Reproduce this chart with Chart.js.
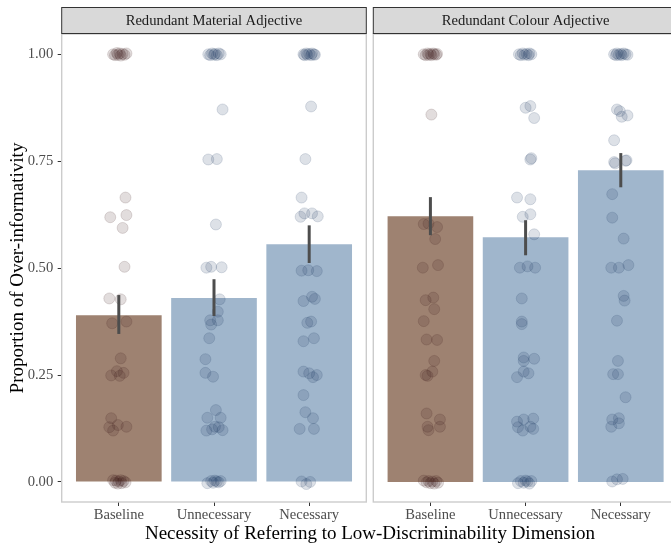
<!DOCTYPE html>
<html><head><meta charset="utf-8">
<script src="https://cdn.jsdelivr.net/npm/chart.js@4/dist/chart.umd.min.js"></script>
<style>
html,body{margin:0;padding:0;background:#fff;overflow:hidden;width:671px;height:546px;}
#wrap{position:relative;width:671px;height:546px;overflow:hidden;}
#c1{position:absolute;left:0;top:0;}
#c2{position:absolute;left:370px;top:0;}
#xt{position:absolute;left:0;width:740px;top:522px;line-height:22px;text-align:center;font-family:'Liberation Serif',serif;font-size:19px;color:#000;white-space:nowrap;}
</style></head>
<body>
<div id="wrap">
<canvas id="c1" width="370" height="546"></canvas>
<canvas id="c2" width="312" height="546"></canvas>
<div id="xt">Necessity of Referring to Low-Discriminability Dimension</div>
</div>
<script>
// ---------- data ----------
const conditions = ['Baseline', 'Unnecessary', 'Necessary'];
const panels = ['Redundant Material Adjective', 'Redundant Colour Adjective'];
const yTicks = [0, 0.25, 0.5, 0.75, 1];

const materialMeans = [0.390, 0.430, 0.556];
const materialLo    = [0.346, 0.388, 0.512];
const materialHi    = [0.437, 0.474, 0.600];

const colourMeans = [0.621, 0.572, 0.729];
const colourLo    = [0.577, 0.530, 0.689];
const colourHi    = [0.666, 0.612, 0.769];

// jittered participant points: [jitter, proportion]
const matBaseline = [
 [-0.06,1.0],[-0.04,0.998],[-0.02,1.003],[-0.01,0.999],[0.01,1.002],[0.02,0.997],[0.04,1.001],[0.06,0.999],[0.08,1.002],
 [0.07,0.665],[-0.09,0.619],[0.08,0.624],[0.04,0.594],[0.06,0.503],[-0.10,0.429],[0.02,0.427],[-0.07,0.371],[0.08,0.375],
 [0.02,0.289],[-0.08,0.249],[-0.02,0.259],[0.01,0.248],[0.05,0.255],[-0.08,0.149],[-0.10,0.128],[-0.01,0.133],[-0.06,0.120],[0.08,0.129],
 [-0.06,0.004],[-0.04,-0.002],[-0.03,0.003],[-0.01,-0.004],[0.0,0.001],[0.02,0.004],[0.03,-0.003],[0.05,0.002],[0.07,-0.001]
];
const matUnnecessary = [
 [-0.06,1.0],[-0.04,0.998],[-0.02,1.002],[0.0,0.999],[0.01,1.001],[0.03,0.998],[0.05,1.002],[0.07,1.0],
 [0.09,0.871],[-0.06,0.754],[0.03,0.755],[0.02,0.602],[-0.08,0.501],[-0.03,0.503],[0.08,0.502],[0.06,0.427],[0.04,0.398],
 [-0.04,0.378],[0.04,0.378],[-0.03,0.368],[-0.05,0.336],[-0.09,0.287],[-0.09,0.255],[-0.01,0.246],[0.02,0.168],[-0.07,0.150],
 [0.07,0.150],[-0.08,0.120],[-0.02,0.123],[0.05,0.128],[0.09,0.121],[0.01,0.129],
 [-0.07,-0.003],[-0.03,0.002],[-0.01,-0.002],[0.01,0.003],[0.03,0.001],[0.05,-0.001],[0.07,0.002]
];
const matNecessary = [
 [-0.06,1.0],[-0.05,0.998],[-0.03,1.002],[-0.02,0.999],[0.0,1.001],[0.02,0.998],[0.03,1.002],[0.05,1.0],[0.06,0.999],
 [0.02,0.878],[-0.04,0.755],[-0.08,0.665],[-0.09,0.620],[-0.05,0.628],[0.03,0.628],[0.09,0.621],[-0.08,0.494],[-0.01,0.495],
 [0.08,0.493],[-0.06,0.423],[0.03,0.433],[0.06,0.428],[-0.02,0.372],[0.02,0.375],[-0.06,0.329],[0.05,0.336],[-0.06,0.258],
 [0.0,0.254],[0.08,0.250],[0.04,0.245],[-0.06,0.203],[-0.04,0.163],[0.04,0.149],[-0.10,0.124],[0.05,0.124],
 [-0.08,0.001],[-0.03,-0.005],[0.01,0.0]
];
const colBaseline = [
 [-0.07,1.0],[-0.05,0.998],[-0.03,1.002],[-0.02,0.999],[0.0,1.001],[0.01,0.998],[0.03,1.002],[0.04,1.0],[0.06,0.999],[0.07,1.001],
 [0.01,0.859],[-0.07,0.603],[-0.02,0.604],[0.07,0.596],[0.05,0.568],[-0.08,0.501],[0.08,0.507],[-0.05,0.425],[0.03,0.431],
 [0.04,0.404],[-0.07,0.376],[-0.04,0.333],[0.07,0.332],[0.04,0.283],[0.02,0.258],[-0.05,0.250],[-0.03,0.248],[-0.04,0.160],
 [0.10,0.146],[-0.03,0.129],[-0.02,0.121],[0.10,0.129],
 [-0.07,0.003],[-0.04,-0.001],[-0.02,0.002],[0.0,-0.003],[0.02,0.001],[0.04,-0.004],[0.06,0.002],[0.08,-0.002]
];
const colUnnecessary = [
 [-0.07,1.0],[-0.05,0.998],[-0.03,1.002],[-0.01,0.999],[0.01,1.001],[0.03,0.998],[0.04,1.002],[0.06,1.0],
 [0.0,0.875],[0.05,0.879],[0.09,0.851],[0.05,0.754],[0.06,0.757],[-0.09,0.665],[0.05,0.661],[-0.03,0.620],[0.05,0.626],
 [0.09,0.579],[-0.06,0.501],[0.02,0.504],[0.10,0.501],[-0.04,0.429],[-0.04,0.375],[-0.04,0.369],[-0.02,0.291],[-0.02,0.283],
 [0.09,0.288],[-0.02,0.258],[0.03,0.254],[-0.09,0.245],[-0.09,0.141],[-0.02,0.146],[0.08,0.148],[-0.08,0.128],[-0.03,0.120],
 [0.05,0.129],[0.08,0.124],
 [-0.08,-0.003],[-0.05,0.002],[-0.02,-0.002],[0.0,0.003],[0.02,0.001],[0.04,-0.004],[0.06,0.002]
];
const colNecessary = [
 [-0.07,1.0],[-0.05,0.998],[-0.04,1.002],[-0.02,0.999],[0.0,1.001],[0.01,0.998],[0.03,1.002],[0.05,1.0],[0.07,0.999],
 [-0.04,0.871],[-0.01,0.867],[0.01,0.854],[0.07,0.857],[-0.07,0.799],[-0.07,0.748],[-0.06,0.745],[0.05,0.751],[0.06,0.752],
 [-0.09,0.673],[-0.09,0.618],[0.03,0.569],[-0.10,0.501],[-0.02,0.501],[0.08,0.507],[0.03,0.435],[0.04,0.424],[-0.04,0.377],
 [-0.03,0.283],[-0.08,0.252],[-0.03,0.252],[0.05,0.198],[-0.09,0.146],[-0.02,0.149],[-0.10,0.129],[-0.02,0.137],
 [-0.09,0.001],[-0.04,0.006],[0.02,0.007]
];

// ---------- styling ----------
const FONT = "'Liberation Serif', serif";
const barColors = ['#9e8271', '#a0b6cc', '#a0b6cc'];
const brownPt = 'rgba(58,30,28,0.15)';
const bluePt = 'rgba(28,56,96,0.15)';

function toPts(arr, i) { return arr.map(([j, v]) => ({x: i + j, y: v})); }

function panelPlugin(strip, lo, hi) {
  return {
    id: 'panelDeco',
    afterDatasetsDraw(chart) {
      const {ctx, scales: {x, y}} = chart;
      ctx.save();
      ctx.strokeStyle = '#4d4d4d';
      ctx.lineWidth = 3;
      lo.forEach((l, i) => {
        const px = x.getPixelForValue(i);
        ctx.beginPath();
        ctx.moveTo(px, y.getPixelForValue(l));
        ctx.lineTo(px, y.getPixelForValue(hi[i]));
        ctx.stroke();
      });
      ctx.restore();
    },
    afterDraw(chart) {
      const {ctx, chartArea: a} = chart;
      ctx.save();
      ctx.strokeStyle = '#cccccc';
      ctx.lineWidth = 1.4;
      ctx.strokeRect(a.left, a.top, a.right - a.left, a.bottom - a.top);
      const st = 7.5, sb = 33.5;
      ctx.fillStyle = '#d9d9d9';
      ctx.fillRect(a.left, st, a.right - a.left, sb - st);
      ctx.strokeStyle = '#333333';
      ctx.lineWidth = 1;
      ctx.strokeRect(a.left, st, a.right - a.left, sb - st);
      ctx.fillStyle = '#1a1a1a';
      ctx.font = '14.6px ' + FONT;
      ctx.textAlign = 'center';
      ctx.textBaseline = 'middle';
      ctx.fillText(strip, (a.left + a.right) / 2, (st + sb) / 2 + 0.5);
      ctx.restore();
    }
  };
}

function makeChart(canvas, strip, means, lo, hi, groups, showY, padding) {
  return new Chart(canvas, {
    type: 'bar',
    data: {
      datasets: [
        {type: 'scatter', order: 1, data: toPts(groups[0], 0),
         backgroundColor: brownPt, borderColor: brownPt, borderWidth: 1, pointRadius: 5.5},
        {type: 'scatter', order: 1, data: toPts(groups[1], 1).concat(toPts(groups[2], 2)),
         backgroundColor: bluePt, borderColor: bluePt, borderWidth: 1, pointRadius: 5.5},
        {type: 'bar', order: 2, data: means.map((m, i) => ({x: i, y: m})),
         backgroundColor: barColors, borderWidth: 0, categoryPercentage: 1, barPercentage: 0.9}
      ]
    },
    options: {
      responsive: false, devicePixelRatio: 1, animation: false, events: [],
      layout: {padding: padding, autoPadding: false},
      plugins: {legend: {display: false}, tooltip: {enabled: false}, title: {display: false}},
      scales: {
        x: {
          type: 'linear', min: -0.6, max: 2.6, offset: false,
          afterBuildTicks: (s) => { s.ticks = conditions.map((c, i) => ({value: i})); },
          afterFit: (s) => { s.height = 44; },
          grid: {offset: false, drawOnChartArea: false, drawTicks: true, tickLength: 4, color: '#333333'},
          border: {display: false},
          ticks: {autoSkip: false, maxRotation: 0, padding: 0, color: '#4d4d4d',
                  font: {family: FONT, size: 14.6}, callback: (v) => conditions[v]}
        },
        y: {
          type: 'linear', min: -0.047, max: 1.0475, display: showY,
          afterBuildTicks: (s) => { s.ticks = yTicks.map(v => ({value: v})); },
          afterFit: (s) => { if (showY) s.width = 61.7; },
          grid: {drawOnChartArea: false, drawTicks: true, tickLength: 4, color: '#333333'},
          border: {display: false},
          ticks: {padding: 4.5, color: '#4d4d4d', font: {family: FONT, size: 14.6},
                  callback: (v) => Number(v).toFixed(2)},
          title: {display: showY, text: 'Proportion of Over-informativity', color: '#000',
                  font: {family: FONT, size: 19, lineHeight: 1.2}, padding: {top: 7, bottom: 0}}
        }
      }
    },
    plugins: [panelPlugin(strip, lo, hi)]
  });
}

makeChart(document.getElementById('c1'), panels[0], materialMeans, materialLo, materialHi,
  [matBaseline, matUnnecessary, matNecessary], true, {top: 34, right: 3.7, bottom: 0, left: 0});
makeChart(document.getElementById('c2'), panels[1], colourMeans, colourLo, colourHi,
  [colBaseline, colUnnecessary, colNecessary], false, {top: 34, right: 4.1, bottom: 0, left: 3.3});
</script>
</body></html>
